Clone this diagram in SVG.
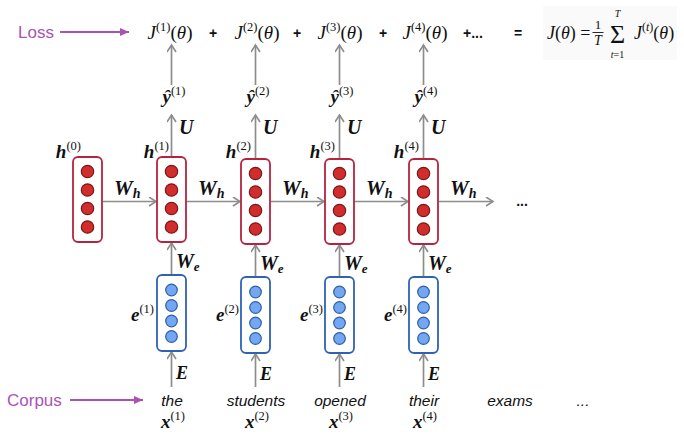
<svg xmlns="http://www.w3.org/2000/svg" width="684" height="438" viewBox="0 0 684 438">
<defs>
<marker id="ah" markerUnits="userSpaceOnUse" markerWidth="12" markerHeight="12" refX="8" refY="5" orient="auto">
<path d="M1,0.5 L8,5 L1,9.5" fill="none" stroke="#8d8d8d" stroke-width="1.6"/>
</marker>
<marker id="ph" markerUnits="userSpaceOnUse" markerWidth="12" markerHeight="10" refX="9" refY="4" orient="auto">
<path d="M0,0 L9,4 L0,8 Z" fill="#ab52b6"/>
</marker>
</defs>
<style>
.ar{stroke:#8d8d8d;stroke-width:1.7;fill:none;marker-end:url(#ah)}
.pa{stroke:#ab52b6;stroke-width:2.2;fill:none;marker-end:url(#ph)}
.hb{fill:#fff;stroke:#b5243f;stroke-width:1.8}
.hc{fill:#d22d2d;stroke:#7d1717;stroke-width:1.2}
.eb{fill:#fff;stroke:#2f62b3;stroke-width:1.8}
.ec{fill:#74a7f2;stroke:#2d5ea8;stroke-width:1.2}
.m{font-family:"Liberation Serif","DejaVu Serif",serif;fill:#111}
.mb{font-family:"Liberation Serif","DejaVu Serif",serif;font-weight:bold;font-style:italic;fill:#111}
.up{font-style:normal;font-weight:normal}
.it{font-style:italic}
.s{font-family:"Liberation Sans",Arial,sans-serif;fill:#111}
.w{font-family:"Liberation Sans",Arial,sans-serif;font-style:italic;font-size:15.5px;fill:#111;text-anchor:middle}
.pl{font-family:"Liberation Sans",Arial,sans-serif;font-size:17px;fill:#ab52b6}
</style>

<g id="connectors">
<line class="pa" x1="60" y1="32" x2="129" y2="32"/>
<line class="pa" x1="70" y1="400" x2="143" y2="400"/>
<line class="ar" x1="102" y1="201.5" x2="156" y2="201.5"/>
<line class="ar" x1="186" y1="201.5" x2="240" y2="201.5"/>
<line class="ar" x1="270" y1="201.5" x2="324" y2="201.5"/>
<line class="ar" x1="354" y1="201.5" x2="408" y2="201.5"/>
<line class="ar" x1="438" y1="201.5" x2="493" y2="201.5"/>
<line class="ar" x1="171.5" y1="157" x2="171.5" y2="115"/>
<line class="ar" x1="255.5" y1="159" x2="255.5" y2="115"/>
<line class="ar" x1="339.5" y1="159" x2="339.5" y2="115"/>
<line class="ar" x1="423.5" y1="159" x2="423.5" y2="115"/>
<line class="ar" x1="171.5" y1="85" x2="171.5" y2="45"/>
<line class="ar" x1="255.5" y1="85" x2="255.5" y2="45"/>
<line class="ar" x1="339.5" y1="85" x2="339.5" y2="45"/>
<line class="ar" x1="423.5" y1="85" x2="423.5" y2="45"/>
<line class="ar" x1="171.5" y1="275" x2="171.5" y2="243"/>
<line class="ar" x1="255.5" y1="277" x2="255.5" y2="245"/>
<line class="ar" x1="339.5" y1="277" x2="339.5" y2="245"/>
<line class="ar" x1="423.5" y1="277" x2="423.5" y2="245"/>
<line class="ar" x1="171.5" y1="387" x2="171.5" y2="352"/>
<line class="ar" x1="255.5" y1="387" x2="255.5" y2="354"/>
<line class="ar" x1="339.5" y1="387" x2="339.5" y2="354"/>
<line class="ar" x1="423.5" y1="387" x2="423.5" y2="354"/>
</g>

<g id="loss-label"><text class="pl" x="18" y="38">Loss</text></g>
<g id="corpus-label"><text class="pl" x="7" y="406">Corpus</text></g>

<g id="losses">
<text class="m it" font-size="19" x="170" y="39" text-anchor="middle">J<tspan class="up" font-size="12.5" dy="-8">(1)</tspan><tspan class="up" dy="8">(</tspan>θ<tspan class="up">)</tspan></text>
<text class="s" font-size="14" font-weight="bold" x="213" y="38" text-anchor="middle">+</text>
<text class="m it" font-size="19" x="257" y="39" text-anchor="middle">J<tspan class="up" font-size="12.5" dy="-8">(2)</tspan><tspan class="up" dy="8">(</tspan>θ<tspan class="up">)</tspan></text>
<text class="s" font-size="14" font-weight="bold" x="297" y="38" text-anchor="middle">+</text>
<text class="m it" font-size="19" x="340" y="39" text-anchor="middle">J<tspan class="up" font-size="12.5" dy="-8">(3)</tspan><tspan class="up" dy="8">(</tspan>θ<tspan class="up">)</tspan></text>
<text class="s" font-size="14" font-weight="bold" x="383" y="38" text-anchor="middle">+</text>
<text class="m it" font-size="19" x="425" y="39" text-anchor="middle">J<tspan class="up" font-size="12.5" dy="-8">(4)</tspan><tspan class="up" dy="8">(</tspan>θ<tspan class="up">)</tspan></text>
<text class="s" font-size="14" font-weight="bold" x="463" y="38">+...</text>
<text class="s" font-size="14" font-weight="bold" x="518" y="38" text-anchor="middle">=</text>
</g>

<g id="total-loss">
<rect x="543" y="6" width="134" height="54" fill="#fafafa"/>
<text class="m it" font-size="18" x="547" y="39">J<tspan class="up">(</tspan>θ<tspan class="up">) =</tspan></text>
<text class="m" font-size="13" x="598" y="29" text-anchor="middle">1</text>
<line x1="592.5" y1="32.5" x2="603.5" y2="32.5" stroke="#111" stroke-width="0.9"/>
<text class="m it" font-size="14" x="598" y="45" text-anchor="middle">T</text>
<text class="m" font-size="26" x="617.5" y="43" text-anchor="middle">Σ</text>
<text class="m it" font-size="10" x="617.5" y="17" text-anchor="middle">T</text>
<text class="m" font-size="10" x="617.5" y="58" text-anchor="middle"><tspan class="it">t</tspan>=1</text>
<text class="m it" font-size="18" x="634" y="39">J<tspan class="up" font-size="12" dy="-8">(</tspan><tspan font-size="12">t</tspan><tspan class="up" font-size="12">)</tspan><tspan class="up" dy="8">(</tspan>θ<tspan class="up">)</tspan></text>
</g>

<g id="outputs">
<text class="mb" font-size="19" x="174" y="103" text-anchor="middle">ŷ<tspan class="up" font-size="12.5" dy="-8">(1)</tspan></text>
<text class="mb" font-size="19" x="258" y="103" text-anchor="middle">ŷ<tspan class="up" font-size="12.5" dy="-8">(2)</tspan></text>
<text class="mb" font-size="19" x="342" y="103" text-anchor="middle">ŷ<tspan class="up" font-size="12.5" dy="-8">(3)</tspan></text>
<text class="mb" font-size="19" x="426" y="103" text-anchor="middle">ŷ<tspan class="up" font-size="12.5" dy="-8">(4)</tspan></text>
<text class="mb" font-size="20" x="179" y="134">U</text>
<text class="mb" font-size="20" x="263" y="134">U</text>
<text class="mb" font-size="20" x="347" y="134">U</text>
<text class="mb" font-size="20" x="431" y="134">U</text>
</g>

<g id="h0">
<rect class="hb" x="73" y="157" width="29" height="85" rx="5"/>
<circle class="hc" cx="87.5" cy="171.5" r="6.2"/><circle class="hc" cx="87.5" cy="190" r="6.2"/><circle class="hc" cx="87.5" cy="208.5" r="6.2"/><circle class="hc" cx="87.5" cy="227" r="6.2"/>
<text class="mb" font-size="19" x="81" y="158" text-anchor="end">h<tspan class="up" font-size="12.5" dy="-8">(0)</tspan></text>
</g>
<g id="h1">
<rect class="hb" x="157" y="157" width="29" height="85" rx="5"/>
<circle class="hc" cx="171.5" cy="171.5" r="6.2"/><circle class="hc" cx="171.5" cy="190" r="6.2"/><circle class="hc" cx="171.5" cy="208.5" r="6.2"/><circle class="hc" cx="171.5" cy="227" r="6.2"/>
<text class="mb" font-size="19" x="169" y="158" text-anchor="end">h<tspan class="up" font-size="12.5" dy="-8">(1)</tspan></text>
</g>
<g id="h2">
<rect class="hb" x="241" y="159" width="29" height="85" rx="5"/>
<circle class="hc" cx="255.5" cy="173.5" r="6.2"/><circle class="hc" cx="255.5" cy="192" r="6.2"/><circle class="hc" cx="255.5" cy="210.5" r="6.2"/><circle class="hc" cx="255.5" cy="229" r="6.2"/>
<text class="mb" font-size="19" x="251" y="158" text-anchor="end">h<tspan class="up" font-size="12.5" dy="-8">(2)</tspan></text>
</g>
<g id="h3">
<rect class="hb" x="325" y="159" width="29" height="85" rx="5"/>
<circle class="hc" cx="339.5" cy="173.5" r="6.2"/><circle class="hc" cx="339.5" cy="192" r="6.2"/><circle class="hc" cx="339.5" cy="210.5" r="6.2"/><circle class="hc" cx="339.5" cy="229" r="6.2"/>
<text class="mb" font-size="19" x="335" y="158" text-anchor="end">h<tspan class="up" font-size="12.5" dy="-8">(3)</tspan></text>
</g>
<g id="h4">
<rect class="hb" x="409" y="159" width="29" height="85" rx="5"/>
<circle class="hc" cx="423.5" cy="173.5" r="6.2"/><circle class="hc" cx="423.5" cy="192" r="6.2"/><circle class="hc" cx="423.5" cy="210.5" r="6.2"/><circle class="hc" cx="423.5" cy="229" r="6.2"/>
<text class="mb" font-size="19" x="419" y="158" text-anchor="end">h<tspan class="up" font-size="12.5" dy="-8">(4)</tspan></text>
</g>

<g id="weights">
<text class="mb" font-size="21" x="114" y="195">W<tspan font-size="14" dy="3">h</tspan></text>
<text class="mb" font-size="21" x="198" y="195">W<tspan font-size="14" dy="3">h</tspan></text>
<text class="mb" font-size="21" x="282" y="195">W<tspan font-size="14" dy="3">h</tspan></text>
<text class="mb" font-size="21" x="366" y="195">W<tspan font-size="14" dy="3">h</tspan></text>
<text class="mb" font-size="21" x="450" y="195">W<tspan font-size="14" dy="3">h</tspan></text>
<text class="s" font-size="14" font-weight="bold" x="522" y="206" text-anchor="middle">...</text>
<text class="mb" font-size="20" x="176" y="268">W<tspan font-size="13" dy="3">e</tspan></text>
<text class="mb" font-size="20" x="260" y="270">W<tspan font-size="13" dy="3">e</tspan></text>
<text class="mb" font-size="20" x="344" y="270">W<tspan font-size="13" dy="3">e</tspan></text>
<text class="mb" font-size="20" x="428" y="270">W<tspan font-size="13" dy="3">e</tspan></text>
<text class="mb" font-size="18" x="176" y="379">E</text>
<text class="mb" font-size="18" x="260" y="380">E</text>
<text class="mb" font-size="18" x="344" y="380">E</text>
<text class="mb" font-size="18" x="428" y="380">E</text>
</g>

<g id="e1">
<rect class="eb" x="157" y="275" width="29" height="76" rx="5"/>
<circle class="ec" cx="171.5" cy="290" r="5.8"/><circle class="ec" cx="171.5" cy="305.5" r="5.8"/><circle class="ec" cx="171.5" cy="321" r="5.8"/><circle class="ec" cx="171.5" cy="336.5" r="5.8"/>
<text class="mb" font-size="19" x="154" y="321" text-anchor="end">e<tspan class="up" font-size="12.5" dy="-8">(1)</tspan></text>
</g>
<g id="e2">
<rect class="eb" x="241" y="277" width="29" height="76" rx="5"/>
<circle class="ec" cx="255.5" cy="292" r="5.8"/><circle class="ec" cx="255.5" cy="307.5" r="5.8"/><circle class="ec" cx="255.5" cy="323" r="5.8"/><circle class="ec" cx="255.5" cy="338.5" r="5.8"/>
<text class="mb" font-size="19" x="239" y="321" text-anchor="end">e<tspan class="up" font-size="12.5" dy="-8">(2)</tspan></text>
</g>
<g id="e3">
<rect class="eb" x="325" y="277" width="29" height="76" rx="5"/>
<circle class="ec" cx="339.5" cy="292" r="5.8"/><circle class="ec" cx="339.5" cy="307.5" r="5.8"/><circle class="ec" cx="339.5" cy="323" r="5.8"/><circle class="ec" cx="339.5" cy="338.5" r="5.8"/>
<text class="mb" font-size="19" x="323" y="321" text-anchor="end">e<tspan class="up" font-size="12.5" dy="-8">(3)</tspan></text>
</g>
<g id="e4">
<rect class="eb" x="409" y="277" width="29" height="76" rx="5"/>
<circle class="ec" cx="423.5" cy="292" r="5.8"/><circle class="ec" cx="423.5" cy="307.5" r="5.8"/><circle class="ec" cx="423.5" cy="323" r="5.8"/><circle class="ec" cx="423.5" cy="338.5" r="5.8"/>
<text class="mb" font-size="19" x="407" y="321" text-anchor="end">e<tspan class="up" font-size="12.5" dy="-8">(4)</tspan></text>
</g>

<g id="words">
<text class="w" x="172" y="406">the</text>
<text class="w" x="256" y="406">students</text>
<text class="w" x="340" y="406">opened</text>
<text class="w" x="424" y="406">their</text>
<text class="w" x="510" y="406">exams</text>
<text class="w" x="583" y="406">...</text>
<text class="mb" font-size="19" x="173" y="428" text-anchor="middle">x<tspan class="up" font-size="12.5" dy="-8">(1)</tspan></text>
<text class="mb" font-size="19" x="257" y="428" text-anchor="middle">x<tspan class="up" font-size="12.5" dy="-8">(2)</tspan></text>
<text class="mb" font-size="19" x="341" y="428" text-anchor="middle">x<tspan class="up" font-size="12.5" dy="-8">(3)</tspan></text>
<text class="mb" font-size="19" x="425" y="428" text-anchor="middle">x<tspan class="up" font-size="12.5" dy="-8">(4)</tspan></text>
</g>
</svg>
